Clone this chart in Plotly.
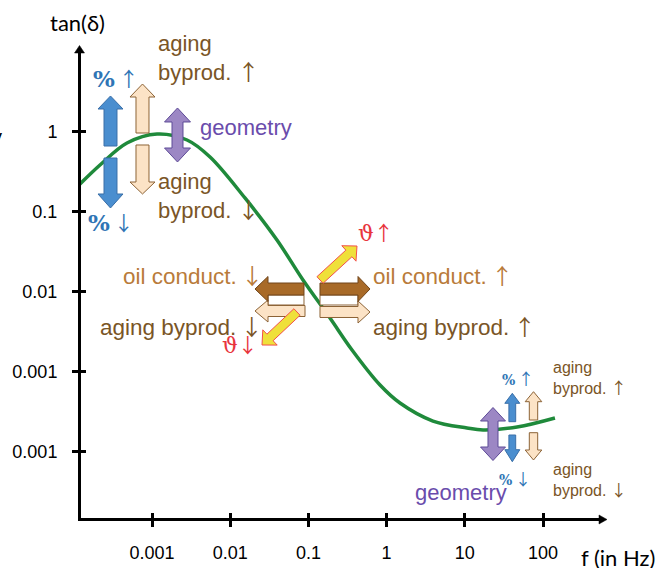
import math
import plotly.graph_objects as go

# ---------------- data ----------------
freq_hz = [1.167e-4, 2.163e-4, 4.786e-4, 1.159e-3, 2.805e-3, 5.521e-3, 1.545e-2,
           3.963e-2, 8.531e-2, 0.1888, 0.3614, 0.824, 1.483, 3.917, 10.67, 17.10,
           46.56, 142.2]
tan_delta = [0.2143, 0.381, 0.718, 0.931, 0.783, 0.480, 0.1476, 0.04406, 0.01393,
             0.004667, 0.001858, 6.776e-4, 4.036e-4, 2.404e-4, 1.968e-4, 1.858e-4,
             2.023e-4, 2.624e-4]
x_tick_vals = [0.001, 0.01, 0.1, 1, 10, 100]
x_tick_text = ["0.001", "0.01", "0.1", "1", "10", "100"]
y_tick_vals = [1, 0.1, 0.01, 0.001, 0.0001]
y_tick_text = ["1", "0.1", "0.01", "0.001", "0.001"]

# ---------------- layout geometry ----------------
FW, FH = 662, 568
ML, MR, MT, MB = 81, 62, 52, 50
PW, PH = FW - ML - MR, FH - MT - MB
# calibration of the log axes (pixels per decade)
X_DEC, X_REF_PX, X_REF_LOG = 78.2, 152.0, -3.0
Y_DEC, Y_REF_PX, Y_REF_LOG = 80.0, 131.5, 0.0
x_range = [X_REF_LOG + (ML - X_REF_PX) / X_DEC, X_REF_LOG + (FW - MR - X_REF_PX) / X_DEC]
y_range = [Y_REF_LOG - (FH - MB - Y_REF_PX) / Y_DEC, Y_REF_LOG + (Y_REF_PX - MT) / Y_DEC]


def px(x):
    return (x - ML) / PW


def py(y):
    return (FH - MB - y) / PH


def path_from(pts):
    return "M " + " L ".join(f"{px(a):.5f},{py(b):.5f}" for a, b in pts) + " Z"


def arrow_pts(x0, y0, x1, y1, sw, hw, hl):
    dx, dy = x1 - x0, y1 - y0
    ln = math.hypot(dx, dy)
    ux, uy = dx / ln, dy / ln
    nx, ny = -uy, ux
    bx, by = x1 - ux * hl, y1 - uy * hl
    return [(x0 + nx * sw, y0 + ny * sw), (bx + nx * sw, by + ny * sw),
            (bx + nx * hw, by + ny * hw), (x1, y1), (bx - nx * hw, by - ny * hw),
            (bx - nx * sw, by - ny * sw), (x0 - nx * sw, y0 - ny * sw)]


def double_pts(x0, y0, x1, y1, sw, hw, hl):
    dx, dy = x1 - x0, y1 - y0
    ln = math.hypot(dx, dy)
    ux, uy = dx / ln, dy / ln
    nx, ny = -uy, ux
    b1x, b1y = x1 - ux * hl, y1 - uy * hl
    b0x, b0y = x0 + ux * hl, y0 + uy * hl
    return [(x0, y0), (b0x + nx * hw, b0y + ny * hw), (b0x + nx * sw, b0y + ny * sw),
            (b1x + nx * sw, b1y + ny * sw), (b1x + nx * hw, b1y + ny * hw), (x1, y1),
            (b1x - nx * hw, b1y - ny * hw), (b1x - nx * sw, b1y - ny * sw),
            (b0x - nx * sw, b0y - ny * sw), (b0x - nx * hw, b0y - ny * hw)]


BLUE = ("#4A8ECF", "#3A6FA8")
CREAM = ("#FCE3C6", "#8C6336")
PURPLE = ("#9C87C4", "#5D4A97")
BROWN = ("#A86A28", "#70451A")
YELLOW = ("#EFE03A", "#F2504A")
WHITE = ("#FFFFFF", "#8C6336")

shapes = []


def add(pts, style, width=1):
    shapes.append(dict(type="path", xref="paper", yref="paper", path=path_from(pts),
                       fillcolor=style[0], line=dict(color=style[1], width=width),
                       layer="above"))


# top-left cluster
add(arrow_pts(110.5, 146, 110.5, 96, 6.5, 12.5, 13), BLUE)
add(arrow_pts(110.5, 158, 110.5, 208, 6.5, 12.5, 14), BLUE)
add(arrow_pts(142.5, 133, 142.5, 84, 6.5, 12.5, 13), CREAM)
add(arrow_pts(142.5, 145, 142.5, 194, 6.5, 12.5, 12), CREAM)
add(double_pts(177.5, 108, 177.5, 162, 5.5, 13, 14), PURPLE)

# middle cluster
add([(268, 295), (304, 295), (304, 305), (268, 305)], WHITE)
add([(320, 295), (358, 295), (358, 305), (320, 305)], WHITE)
add(arrow_pts(305, 311, 255, 311, 5.5, 11, 13), CREAM)
add(arrow_pts(320, 312, 370, 312, 5.5, 11, 12), CREAM)
add(arrow_pts(304, 289, 255, 289, 6, 12.5, 13), BROWN)
add(arrow_pts(320, 289, 370, 289, 6, 12.5, 12), BROWN)
add(arrow_pts(320, 280, 357, 246, 4.5, 10.5, 11), YELLOW)
add(arrow_pts(297, 312, 262, 345, 4.5, 10.5, 11), YELLOW)

# bottom-right cluster
add(double_pts(493, 407.5, 493, 460.5, 5, 12.5, 13.5), PURPLE)
add(arrow_pts(512.3, 421.7, 512.3, 393.3, 3.4, 7.5, 10), BLUE)
add(arrow_pts(512.3, 435, 512.3, 461.7, 3.4, 7.5, 12), BLUE)
add(arrow_pts(533.5, 420, 533.5, 391.7, 4.2, 8.3, 10), CREAM)
add(arrow_pts(533.5, 432.7, 533.5, 460, 4.2, 8.3, 10), CREAM)

# axis arrow heads
add([(74.5, 53), (84.5, 53), (79.5, 45.5)], ("#000000", "#000000"), 0.5)
add([(599, 515), (599, 524), (607, 519.5)], ("#000000", "#000000"), 0.5)

# ---------------- text ----------------
SANS = "Liberation Sans"
CAL = "Lato"
SERIF = "DejaVu Serif"
C_BLUE = "#2F75B5"
C_BROWN = "#7A5526"
C_ORANGE = "#B97B3A"
C_PURPLE = "#6A4CAC"
C_RED = "#E8353D"
THIN = "\u2009"


def UP(sz):
    return f'<span style="font-family:Noto Sans CJK SC;font-size:{sz}px">↑</span>'


def DN(sz):
    return f'<span style="font-family:Noto Sans CJK SC;font-size:{sz}px">↓</span>'


def PCT(sz):
    return f'<span style="font-size:{sz}px"><b>%</b></span>'


texts = [
    ("tan(δ)", 77, 23, "center", CAL, 22, "#000000"),
    ("y", 4, 137, "right", SANS, 20, "#000000"),
    (PCT(23) + THIN + UP(20), 91, 79, "left", SERIF, 20, C_BLUE),
    (PCT(23) + THIN + DN(20), 86, 222, "left", SERIF, 20, C_BLUE),
    ("aging<br>byprod. " + UP(22), 156, 59, "left", SANS, 22, C_BROWN),
    ("geometry", 198, 128, "left", SANS, 22, C_PURPLE),
    ("aging<br>byprod. " + DN(22), 156, 196, "left", SANS, 22, C_BROWN),
    ("oil conduct." + THIN + DN(22), 265, 274, "right", SANS, 22.5, C_ORANGE),
    ("aging byprod." + THIN + DN(22), 265, 325, "right", SANS, 22.5, C_BROWN),
    ("ϑ" + DN(20), 220, 345, "left", SERIF, 22, C_RED),
    ("ϑ" + UP(20), 356, 233, "left", SERIF, 22, C_RED),
    ("oil conduct." + THIN + UP(22), 371, 274, "left", SANS, 22.5, C_ORANGE),
    ("aging byprod." + THIN + UP(22), 371, 325, "left", SANS, 22.5, C_BROWN),
    (PCT(14) + THIN + UP(16), 500, 378, "left", SERIF, 14, C_BLUE),
    (PCT(14) + THIN + DN(16), 497, 478, "left", SERIF, 14, C_BLUE),
    ("aging<br>byprod. " + UP(16), 551, 379, "left", SANS, 16, C_BROWN),
    ("aging<br>byprod. " + DN(16), 551, 481, "left", SANS, 16, C_BROWN),
    ("geometry", 413, 492, "left", SANS, 22, C_PURPLE),
    ("f (in Hz)", 579, 557, "left", CAL, 22, "#000000"),
]

annotations = [
    dict(text=t, x=px(x), y=py(y), xref="paper", yref="paper", xanchor=a,
         yanchor="middle", align=a if a != "center" else "center", showarrow=False,
         font=dict(family=f, size=s, color=c))
    for t, x, y, a, f, s, c in texts
]

fig = go.Figure()
fig.add_trace(go.Scatter(x=freq_hz, y=tan_delta, mode="lines",
                         line=dict(color="#1F8A3B", width=3.5, shape="spline", smoothing=1.0),
                         hoverinfo="skip", showlegend=False))
fig.add_trace(go.Scatter(x=[freq_hz[5]], y=[tan_delta[5]], mode="markers",
                         marker=dict(opacity=0), xaxis="x2", yaxis="y2",
                         hoverinfo="skip", showlegend=False))

axis_common = dict(type="log", showgrid=False, zeroline=False, tickcolor="#000000",
                   tickwidth=3, ticklen=6, automargin=False)
fig.update_layout(
    width=FW, height=FH,
    margin=dict(l=ML, r=MR, t=MT, b=MB, pad=0, autoexpand=False),
    paper_bgcolor="#FFFFFF", plot_bgcolor="#FFFFFF",
    xaxis=dict(axis_common, range=x_range, tickvals=x_tick_vals, ticktext=x_tick_text,
               ticks="outside", showline=True, linecolor="#000000", linewidth=3,
               tickfont=dict(family=SANS, size=18, color="#000000"),
               ticklabelstandoff=10),
    yaxis=dict(axis_common, range=y_range, tickvals=y_tick_vals, ticktext=y_tick_text,
               ticks="outside", showline=True, linecolor="#000000", linewidth=3,
               tickfont=dict(family=SANS, size=18, color="#000000"),
               ticklabelstandoff=11),
    xaxis2=dict(axis_common, range=x_range, tickvals=x_tick_vals, ticks="inside",
                ticklen=5, showticklabels=False, showline=False, overlaying="x",
                anchor="y2"),
    yaxis2=dict(axis_common, range=y_range, tickvals=y_tick_vals, ticks="inside",
                ticklen=5, showticklabels=False, showline=False, overlaying="y",
                anchor="x2", side="left"),
    shapes=shapes,
    annotations=annotations,
    showlegend=False,
)

fig.write_html("out.html")
